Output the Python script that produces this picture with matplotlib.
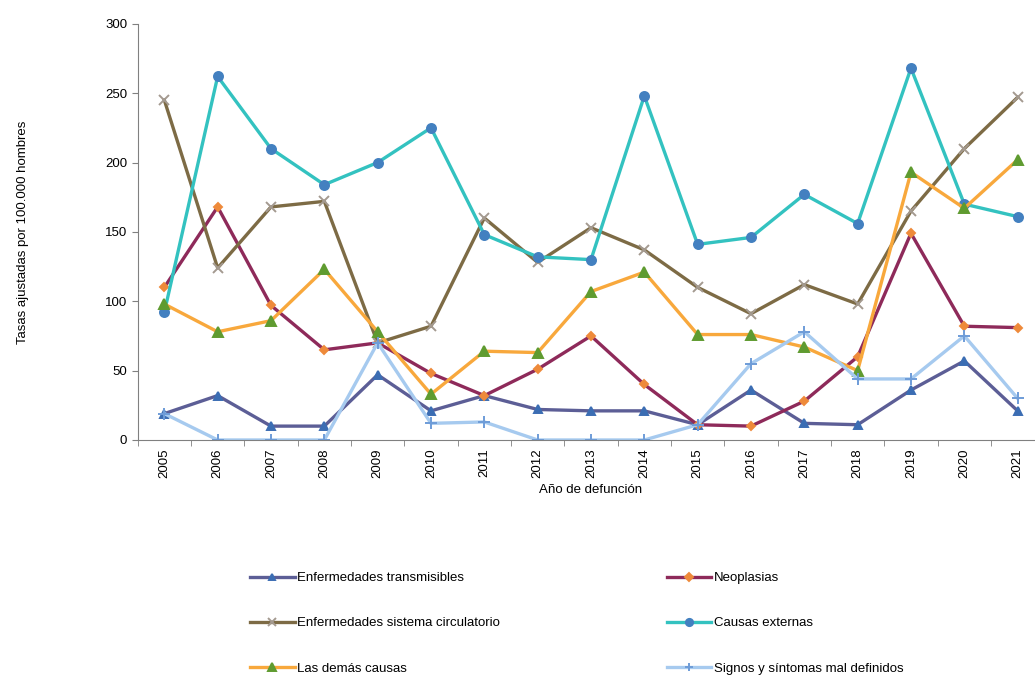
import matplotlib
matplotlib.use('Agg')
import matplotlib.pyplot as plt
import numpy as np

plt.rcParams['font.family'] = ['Liberation Sans Narrow', 'Liberation Sans', 'DejaVu Sans']

# Data
years = [str(y) for y in range(2005, 2022)]

transmisibles = [19, 32, 10, 10, 47, 21, 32, 22, 21, 21, 11, 36, 12, 11, 36, 57, 21]
neoplasias = [110, 168, 97, 65, 70, 48, 32, 51, 75, 40, 11, 10, 28, 60, 149, 82, 81]
circulatorio = [245, 124, 168, 172, 70, 82, 160, 128, 153, 137, 110, 91, 112, 98, 165, 210, 247]
externas = [92, 262, 210, 184, 200, 225, 148, 132, 130, 248, 141, 146, 177, 156, 268, 170, 161]
demas = [98, 78, 86, 123, 78, 33, 64, 63, 107, 121, 76, 76, 67, 50, 193, 167, 202]
signos = [19, 0, 0, 0, 70, 12, 13, 0, 0, 0, 11, 55, 78, 44, 44, 75, 30]

series = [
    ('Enfermedades transmisibles', transmisibles, '#5C5E96', '^', '#3B6DB3', 6),
    ('Neoplasias', neoplasias, '#8E2A5A', 'D', '#EE8A3A', 4.5),
    ('Enfermedades sistema circulatorio', circulatorio, '#7D6B45', 'x', '#A49A90', 7),
    ('Causas externas', externas, '#33C2C0', 'o', '#4380C0', 6.5),
    ('Las demás causas', demas, '#F8A83C', '^', '#5F9B30', 6.5),
    ('Signos y síntomas mal definidos', signos, '#A6CAEF', '+', '#6E9CD8', 8),
]

fig = plt.figure(figsize=(10.35, 6.79), dpi=100)
ax = fig.add_axes([0.133, 0.352, 0.876, 0.613])

x = np.arange(len(years))
handles = {}
for name, vals, lc, mk, mc, ms in series:
    h, = ax.plot(x, vals, color=lc, linewidth=2.4, marker=mk, markersize=ms,
                 markerfacecolor=mc, markeredgecolor=mc, markeredgewidth=1.4,
                 label=name)
    handles[name] = h

ax.set_xlim(-0.5, 16.5)
ax.set_ylim(0, 300)
ax.set_yticks(range(0, 301, 50))
ax.set_xticks(x)
ax.set_xticklabels(years, rotation=90, fontsize=9.5)
ax.set_xticks(np.arange(-0.5, 17, 1), minor=True)
ax.tick_params(axis='x', which='major', length=0, pad=6)
ax.tick_params(axis='x', which='minor', length=4, direction='out', color='#808080')
ax.tick_params(axis='y', labelsize=9.5, length=4, color='#808080')

for s in ['top', 'right']:
    ax.spines[s].set_visible(False)
for s in ['left', 'bottom']:
    ax.spines[s].set_color('#808080')

ax.set_ylabel('Tasas ajustadas por 100.000 hombres', fontsize=9.5, labelpad=55)
ax.set_xlabel('Año de defunción', fontsize=9.5, labelpad=4)

order = ['Enfermedades transmisibles', 'Enfermedades sistema circulatorio',
         'Las demás causas', 'Neoplasias', 'Causas externas',
         'Signos y síntomas mal definidos']
fig.legend([handles[n] for n in order], order, ncol=2, frameon=False,
           loc='lower left', bbox_to_anchor=(0.230, -0.011),
           fontsize=9.5, handlelength=3.4, handletextpad=0.2,
           columnspacing=12.6, labelspacing=2.5, markerscale=0.8)

fig.savefig('out.png', dpi=100)
